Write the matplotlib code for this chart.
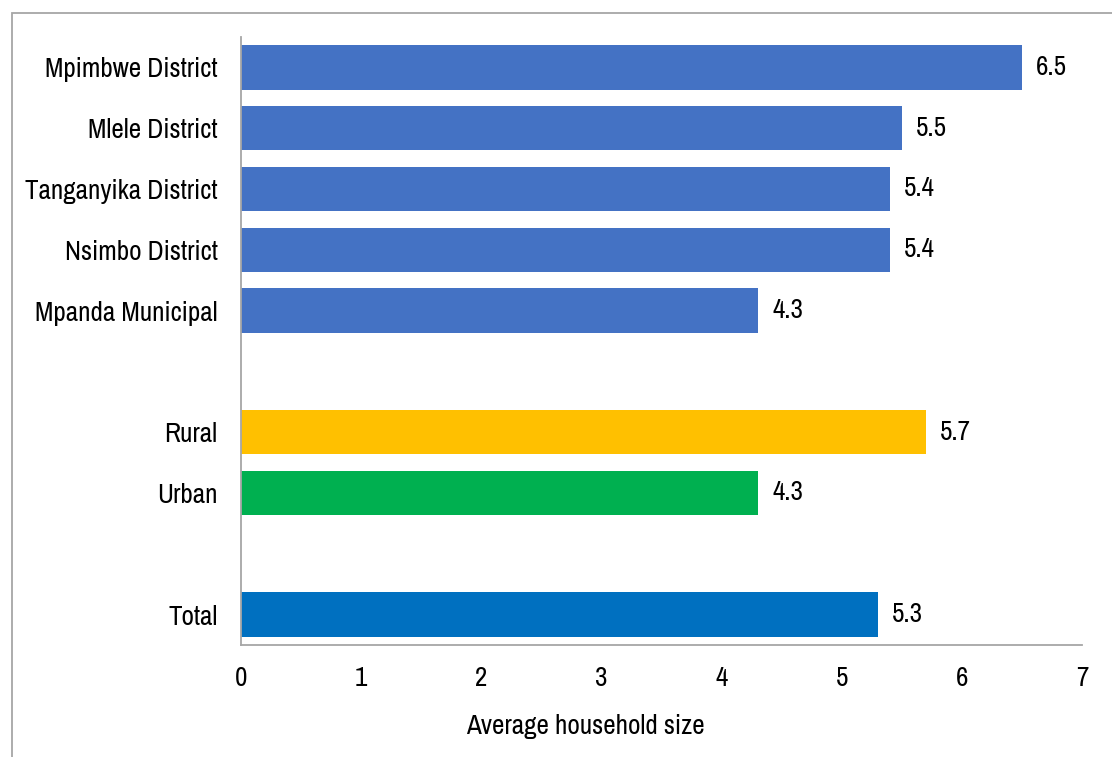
import numpy as np
import matplotlib
matplotlib.use("Agg")
import matplotlib.pyplot as plt
from matplotlib.patches import Rectangle

# household size by district / residence (blank entries are spacer rows)
categories = ['Mpimbwe District', 'Mlele District', 'Tanganyika District',
              'Nsimbo District', 'Mpanda Municipal', '',
              'Rural', 'Urban', '', 'Total']
values = [6.5, 5.5, 5.4, 5.4, 4.3, np.nan, 5.7, 4.3, np.nan, 5.3]
colors = ['#4472C4'] * 6 + ['#FFC000', '#00B050', '#FFFFFF', '#0070C0']

plt.rcParams['font.family'] = ['Archivo Narrow', 'Liberation Sans', 'DejaVu Sans']
FS = 19.5

fig = plt.figure(figsize=(11.12, 7.57), dpi=100)
ax = fig.add_axes([241 / 1112, 1 - 645 / 757, 841 / 1112, 608 / 757])

# frame around the chart area
fig.add_artist(Rectangle((12 / 1112, -0.2), 1.2, 1.2 - 13 / 757,
                         transform=fig.transFigure, fill=False,
                         edgecolor='#A6A6A6', linewidth=1.3))

y = np.arange(len(categories))
vals = np.nan_to_num(values)
ax.barh(y, vals, height=0.73, color=colors)
for yi, v in zip(y, values):
    if not np.isnan(v):
        ax.text(v + 0.12, yi, f'{v:.1f}', va='center', ha='left', fontsize=FS)

ax.set_ylim(len(categories) - 0.5, -0.5)
ax.set_xlim(0, 7)
ax.set_xticks(range(8))
ax.set_yticks(y)
ax.set_yticklabels(categories)
ax.tick_params(axis='both', length=0, labelsize=FS)
ax.tick_params(axis='x', pad=15)
ax.tick_params(axis='y', pad=17)

for s in ['top', 'right']:
    ax.spines[s].set_visible(False)
for s in ['left', 'bottom']:
    ax.spines[s].set_color('#A6A6A6')
    ax.spines[s].set_linewidth(1.3)

ax.set_xlabel('Average household size', fontsize=FS)
ax.xaxis.set_label_coords(0.41, -0.113)

fig.savefig('out.png', dpi=100)
